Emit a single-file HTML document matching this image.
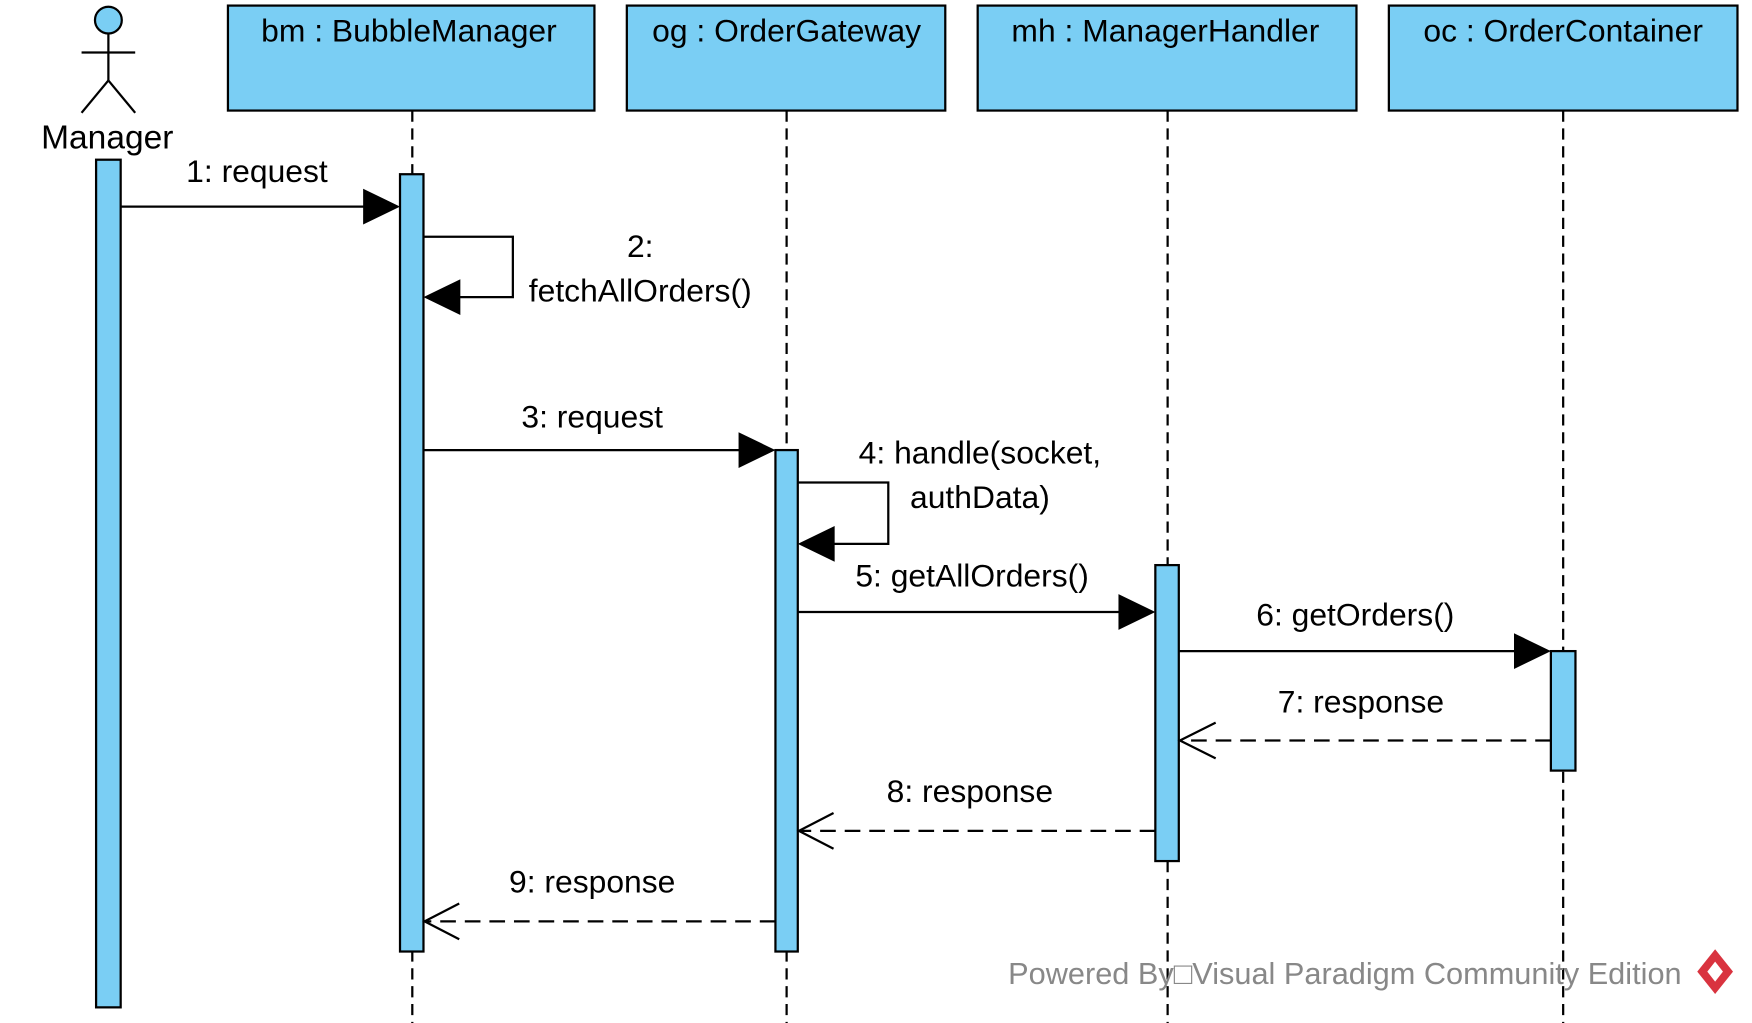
<!DOCTYPE html>
<html><head><style>html,body{margin:0;padding:0;background:#fff;}svg{display:block}</style></head>
<body>
<svg width="1752" height="1023" viewBox="0 0 1568 916" preserveAspectRatio="none" xmlns="http://www.w3.org/2000/svg" font-family="Liberation Sans, Arial, sans-serif">
<rect width="1568" height="916" fill="#fff"/>
<g stroke="#000" stroke-width="2" stroke-dasharray="10,6" fill="none">
<line x1="369" y1="99" x2="369" y2="916"/>
<line x1="704" y1="99" x2="704" y2="916"/>
<line x1="1045" y1="99" x2="1045" y2="916"/>
<line x1="1399" y1="99" x2="1399" y2="916"/>
</g>
<g fill="#7acef4" stroke="#000" stroke-width="2">
<rect x="204" y="5" width="328" height="94"/>
<rect x="561" y="5" width="285" height="94"/>
<rect x="875" y="5" width="339" height="94"/>
<rect x="1243" y="5" width="312" height="94"/>
</g>
<g font-size="28.5" fill="#000" text-anchor="middle">
<text x="366" y="37">bm : BubbleManager</text>
<text x="704" y="37">og : OrderGateway</text>
<text x="1043" y="37">mh : ManagerHandler</text>
<text x="1399" y="37">oc : OrderContainer</text>
</g>
<g stroke="#000" stroke-width="2" fill="none">
<circle cx="97" cy="18" r="12" fill="#7acef4"/>
<line x1="97" y1="30" x2="97" y2="72"/>
<line x1="73" y1="47" x2="121" y2="47"/>
<line x1="97" y1="72" x2="73" y2="101"/>
<line x1="97" y1="72" x2="121" y2="101"/>
</g>
<text x="96" y="133" font-size="30" text-anchor="middle">Manager</text>
<g fill="#7acef4" stroke="#000" stroke-width="2">
<rect x="86" y="143" width="22" height="759"/>
<rect x="358" y="156" width="21" height="696"/>
<rect x="694" y="403" width="20" height="449"/>
<rect x="1034" y="506" width="21" height="265"/>
<rect x="1388" y="583" width="22" height="107"/>
</g>
<g stroke="#000" stroke-width="2" fill="none">
<line x1="108" y1="185" x2="330" y2="185"/>
<polyline points="379,212 459,212 459,266 400,266"/>
<line x1="379" y1="403" x2="665" y2="403"/>
<polyline points="714,432 795,432 795,487 735,487"/>
<line x1="714" y1="548" x2="1005" y2="548"/>
<line x1="1055" y1="583" x2="1360" y2="583"/>
<g stroke-dasharray="14,8">
<line x1="1388" y1="663" x2="1057" y2="663"/>
<line x1="1034" y1="744" x2="716" y2="744"/>
<line x1="694" y1="825" x2="381" y2="825"/>
</g>
<polyline points="1088,647 1056,663 1088,679"/>
<polyline points="746,728 715,744 746,760"/>
<polyline points="411,809 380,825 411,841"/>
</g>
<g fill="#000">
<polygon points="358,185 325,169 325,201"/>
<polygon points="379,266 412,250 412,282"/>
<polygon points="694,403 661,387 661,419"/>
<polygon points="714,487 747,471 747,503"/>
<polygon points="1034,548 1001,532 1001,564"/>
<polygon points="1388,583 1355,567 1355,599"/>
</g>
<g font-size="28.5" fill="#000" text-anchor="middle">
<text x="230" y="163">1: request</text>
<text x="573" y="230">2:</text>
<text x="573" y="270">fetchAllOrders()</text>
<text x="530" y="383">3: request</text>
<text x="877" y="415">4: handle(socket,</text>
<text x="877" y="455">authData)</text>
<text x="870" y="525">5: getAllOrders()</text>
<text x="1213" y="560">6: getOrders()</text>
<text x="1218" y="638">7: response</text>
<text x="868" y="718">8: response</text>
<text x="530" y="799">9: response</text>
</g>
<text x="1505" y="881" font-size="27.5" fill="#888" text-anchor="end">Powered By□Visual Paradigm Community Edition</text>
<g transform="translate(1535,870)">
<polygon points="0,-20 16,0 0,20 -16,0" fill="#d9333f"/>
<polygon points="0,-9 7,0 0,9 -7,0" fill="#fff"/>
</g>
</svg>
</body></html>
